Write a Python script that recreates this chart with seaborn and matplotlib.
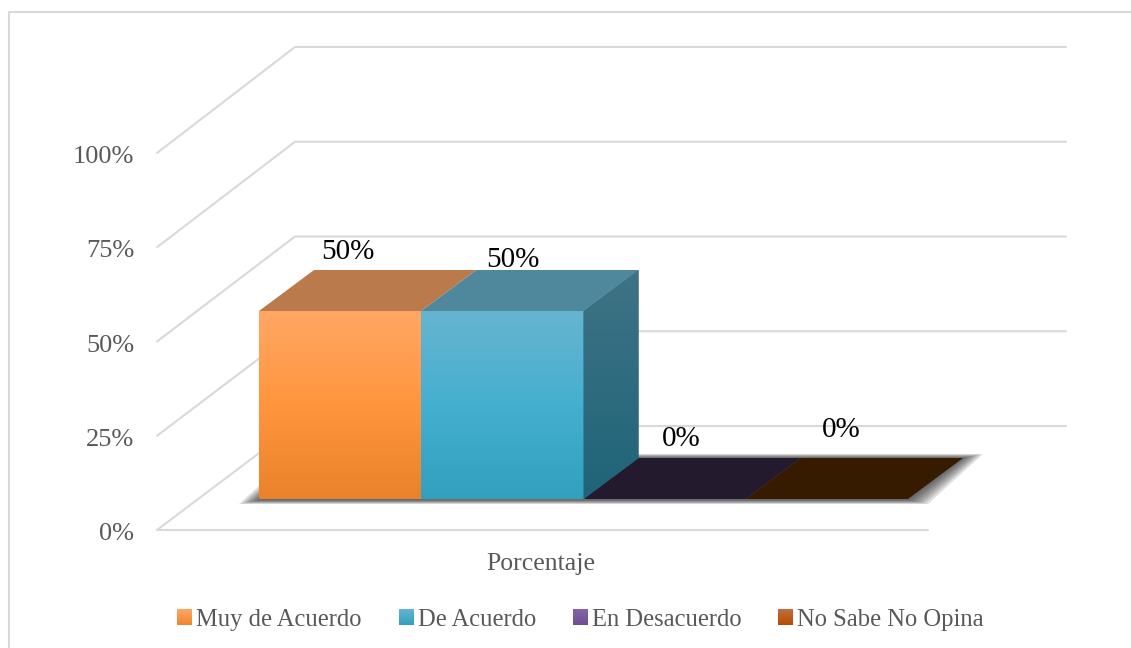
import numpy as np
import seaborn as sns
import matplotlib
matplotlib.use('Agg')
import matplotlib.pyplot as plt
from matplotlib.colors import LinearSegmentedColormap
from matplotlib.patches import Patch, Polygon

categories = ['Muy de Acuerdo', 'De Acuerdo', 'En Desacuerdo', 'No Sabe No Opina']
values = [50, 50, 0, 0]
y_ticks = [0, 25, 50, 75, 100]
group_label = 'Porcentaje'

palette = ['#FF963D', '#45AFCF', '#7D5CA0', '#B84A00']
top_colors = ['#BB7A4B', '#4F889C', '#241A2E', '#361B00']
front_stops = [['#FFA765', '#FF963D', '#EA822B'], ['#66B5D0', '#45AFCF', '#32A0BF']]
side_stops = ['#3F7385', '#1F6478']
swatch_stops = [['#FFA765', '#EF852C'], ['#66B5D0', '#32A0BF'], ['#8565A8', '#6F4E92'], ['#C07040', '#B84A00']]
label_shift = [(8, -59), (11, -51), (17, -60), (14, -69)]

W, H = 1131, 648
GRID = '#D9D9D9'
TXT = '#595959'
DEPTH_X, DEPTH_Y = 55, 41
gradient = np.linspace(0, 1, 256).reshape(-1, 1)

sns.set_style('white')
plt.rcParams['font.family'] = ['Liberation Serif', 'DejaVu Serif']
fig = plt.figure(figsize=(W / 100, H / 100), dpi=100)

# background layer in pixel coords: frame, walls, shadow
bg = fig.add_axes([0, 0, 1, 1], zorder=0)
bg.set_xlim(0, W)
bg.set_ylim(H, 0)
bg.axis('off')
bg.plot([9, 9, W], [H, 12, 12], color=GRID, lw=1.5)
for t in y_ticks:
    yf = 530 - t * 3.77
    yb = 426 - t * 3.79
    bg.plot([157, 295, 1066], [yf, yb, yb], color=GRID, lw=1.5, solid_joinstyle='miter')
    bg.text(134, yf + 4, f'{t}%', ha='right', va='center', fontsize=19, color=TXT)
bg.plot([157, 928], [530, 530], color=GRID, lw=1.5)
bg.text(541, 564, group_label, ha='center', va='center', fontsize=18.5, color=TXT)

# soft floor shadow, stacked so it fades out from the footprint
for e in [20, 17, 14, 11, 8, 5, 2]:
    v = e / 5
    shadow = [(259 - e, 500 + v), (908 + e, 500 + v), (963 + e, 458 - v), (314 - e, 458 - v)]
    bg.add_patch(Polygon(shadow, closed=True, fc='#202020', ec='none', alpha=0.14))

# bars live on their own plane
ax = fig.add_axes([259 / W, (H - 499) / H, 649 / W, 376 / H], zorder=1)
ax.patch.set_alpha(0)
sns.barplot(x=categories, y=values, hue=categories, palette=palette, width=1, legend=False, ax=ax)
ax.set_xlim(-0.5, 3.5)
ax.set_ylim(0, 100)
ax.axis('off')

dx = DEPTH_X * 4 / 649
dy = DEPTH_Y * 100 / 376
bars = ax.patches[:len(categories)]
for i, bar in enumerate(bars):
    x0, x1 = bar.get_x(), bar.get_x() + bar.get_width()
    h = bar.get_height()
    top = Polygon([(x0, h), (x1, h), (x1 + dx, h + dy), (x0 + dx, h + dy)], closed=True,
                  fc=top_colors[i], ec='none', clip_on=False, zorder=3)
    ax.add_patch(top)
    if h > 0:
        cm = LinearSegmentedColormap.from_list('f', front_stops[i])
        im = ax.imshow(gradient, extent=(x0, x1, 0, h), aspect='auto', cmap=cm, zorder=3)
        im.set_clip_path(bar)
    bx, by = bar.get_x() + bar.get_width() / 2, h
    sx, sy = label_shift[i]
    ax.annotate(f'{values[i]}%', (bx, by), xytext=(sx, -sy), textcoords='offset pixels',
                ha='center', va='center', fontsize=21, color='black', annotation_clip=False, zorder=6)

# side wall of the last bar with height
tall = [b for b in bars if b.get_height() > 0][-1]
xr, hr = tall.get_x() + tall.get_width(), tall.get_height()
side = Polygon([(xr, 0), (xr + dx, dy), (xr + dx, hr + dy), (xr, hr)], closed=True, fc=side_stops[1],
               ec='none', clip_on=False, zorder=3)
ax.add_patch(side)
cm = LinearSegmentedColormap.from_list('s', side_stops)
im = ax.imshow(gradient, extent=(xr, xr + dx, 0, hr + dy), aspect='auto', cmap=cm, zorder=4)
im.set_clip_path(side)
im.set_clip_on(True)
ax.set_xlim(-0.5, 3.5)
ax.set_ylim(0, 100)

handles = [Patch(fc=c, ec='none') for c in palette]
leg = fig.legend(handles, categories, ncols=4, loc='center', bbox_to_anchor=(580.5 / W, (H - 620) / H),
                 frameon=False, fontsize=17.7, handlelength=0.57, handleheight=0.57, handletextpad=0.2,
                 columnspacing=1.5, labelcolor=TXT, borderpad=0)

# gradient on the legend swatches
fig.canvas.draw()
top_layer = fig.add_axes([0, 0, 1, 1], zorder=8)
top_layer.patch.set_alpha(0)
top_layer.set_xlim(0, W)
top_layer.set_ylim(0, H)
top_layer.axis('off')
for patch, stops in zip(leg.get_patches(), swatch_stops):
    b = patch.get_window_extent()
    cm = LinearSegmentedColormap.from_list('l', stops)
    top_layer.imshow(gradient, extent=(b.x0, b.x1, b.y0, b.y1), aspect='auto', cmap=cm)
top_layer.set_xlim(0, W)
top_layer.set_ylim(0, H)

fig.savefig('out.png', dpi=100)
